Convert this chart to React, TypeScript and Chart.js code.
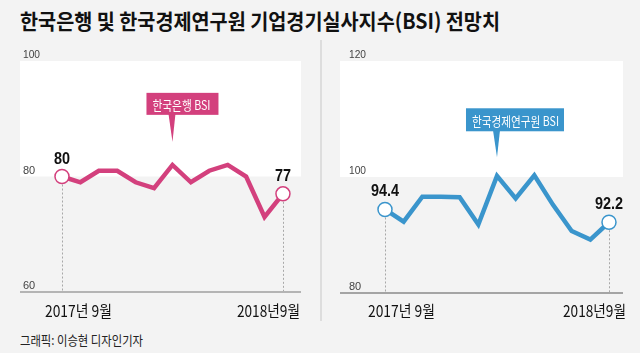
import React, { useEffect, useLayoutEffect, useRef } from 'react';
import { Chart, registerables } from 'chart.js';

Chart.register(...registerables);

// ---------- data ----------
const months = [
  '2017년 9월', '2017년 10월', '2017년 11월', '2017년 12월', '2018년 1월', '2018년 2월', '2018년 3월',
  '2018년 4월', '2018년 5월', '2018년 6월', '2018년 7월', '2018년 8월', '2018년9월',
];
const bokValues = [80, 79, 81, 81, 79, 78, 82, 79, 81, 82, 80, 73, 77];
const keriValues = [94.4, 92.3, 96.6, 96.6, 96.5, 91.8, 100.2, 96.3, 100.3, 95.2, 90.7, 89.2, 92.2];
const bokTicks = [100, 80, 60];
const keriTicks = [120, 100, 80];
const xEdgeLabels = ['2017년 9월', '2018년9월'];
const bokName = '한국은행 BSI';
const keriName = '한국경제연구원 BSI';
const bokCallout = { index: 6, value: 86 };
const keriCallout = { index: 6, value: 103.4 };
const titleText = '한국은행 및 한국경제연구원 기업경기실사지수(BSI) 전망치';
const creditText = '그래픽: 이승현 디자인기자';

// ---------- styles ----------
const BG = '#f3f3f3';
const PINK = '#d3407d';
const BLUE = '#3a95cc';
const KR = '"Noto Sans CJK KR", "Noto Sans", sans-serif';
const NUM = '"Liberation Sans", Arial, sans-serif';

type Panel = {
  values: number[];
  ticks: number[];
  color: string;
  name: string;
  callout: { index: number; value: number };
  left: number;
  xMin: number;
  xMax: number;
  padding: { left: number; right: number; top: number; bottom: number };
  tickDx: number;
  baseColor: string;
  baseWidth: number;
  box: { dx: number; dy: number; w: number; h: number; textW: number };
};

const panels: Panel[] = [
  {
    values: bokValues,
    ticks: bokTicks,
    color: PINK,
    name: bokName,
    callout: bokCallout,
    left: 0,
    xMin: -2.28,
    xMax: 12.98,
    padding: { left: 20, right: 19, top: 21, bottom: 38 },
    tickDx: 3,
    baseColor: '#b4b4b4',
    baseWidth: 2,
    box: { dx: -26, dy: 49, w: 72, h: 22, textW: 58 },
  },
  {
    values: keriValues,
    ticks: keriTicks,
    color: BLUE,
    name: keriName,
    callout: keriCallout,
    left: 320,
    xMin: -2.41,
    xMax: 12.75,
    padding: { left: 20, right: 17, top: 21, bottom: 37 },
    tickDx: 9,
    baseColor: '#8a8a8a',
    baseWidth: 1.5,
    box: { dx: -31, dy: 49, w: 98, h: 23, textW: 87 },
  },
];

function squeezeText(ctx: CanvasRenderingContext2D, text: string, x: number, y: number, maxW: number) {
  const w = ctx.measureText(text).width;
  ctx.fillText(text, x, y, Math.min(w, maxW));
}

function makePlugin(p: Panel) {
  return {
    id: 'panelDecor',
    beforeDatasetsDraw(chart: any) {
      const { ctx, chartArea: a, scales } = chart;
      const xs = scales.x, ys = scales.y;
      const yTop = ys.getPixelForValue(p.ticks[0]);
      const yMid = ys.getPixelForValue(p.ticks[1]);
      const yBot = ys.getPixelForValue(p.ticks[2]);
      ctx.save();
      // white band
      ctx.fillStyle = '#ffffff';
      ctx.fillRect(a.left, yTop, a.right - a.left, yMid - yTop);
      // baseline
      ctx.strokeStyle = p.baseColor;
      ctx.lineWidth = p.baseWidth;
      ctx.beginPath();
      ctx.moveTo(a.left, yBot);
      ctx.lineTo(a.right, yBot);
      ctx.stroke();
      // dotted drop lines
      const last = p.values.length - 1;
      ctx.strokeStyle = '#a8a8a8';
      ctx.lineWidth = 1;
      ctx.setLineDash([2, 2]);
      [0, last].forEach((i) => {
        const x = Math.round(xs.getPixelForValue(i)) + 0.5;
        ctx.beginPath();
        ctx.moveTo(x, ys.getPixelForValue(p.values[i]));
        ctx.lineTo(x, yBot - 1);
        ctx.stroke();
      });
      ctx.setLineDash([]);
      // tick labels
      ctx.fillStyle = '#444';
      ctx.font = `11px ${NUM}`;
      ctx.textAlign = 'left';
      ctx.textBaseline = 'alphabetic';
      p.ticks.forEach((t) => {
        const y = ys.getPixelForValue(t);
        squeezeText(ctx, String(t), a.left + p.tickDx, y - 3, 17);
      });
      ctx.restore();
    },
    afterDatasetsDraw(chart: any) {
      const { ctx, scales } = chart;
      const xs = scales.x, ys = scales.y;
      const last = p.values.length - 1;
      ctx.save();
      // value labels
      ctx.fillStyle = '#111';
      ctx.font = `bold 16px ${NUM}`;
      ctx.textAlign = 'center';
      ctx.textBaseline = 'alphabetic';
      [0, last].forEach((i) => {
        const x = xs.getPixelForValue(i);
        const y = ys.getPixelForValue(p.values[i]);
        const txt = String(p.values[i]);
        const w = ctx.measureText(txt).width;
        ctx.fillText(txt, x, y - 13, w * 0.9);
      });
      // callout
      const tx = xs.getPixelForValue(p.callout.index);
      const ty = ys.getPixelForValue(p.callout.value);
      const bx = tx + p.box.dx;
      const by = ty - p.box.dy;
      ctx.fillStyle = p.color;
      ctx.fillRect(bx, by, p.box.w, p.box.h);
      ctx.beginPath();
      ctx.moveTo(tx - 4, by + p.box.h - 1);
      ctx.lineTo(tx + 3, by + p.box.h - 1);
      ctx.lineTo(tx, ty);
      ctx.closePath();
      ctx.fill();
      ctx.fillStyle = '#ffffff';
      ctx.font = `13px ${KR}`;
      ctx.textAlign = 'left';
      ctx.textBaseline = 'middle';
      squeezeText(ctx, p.name, bx + 6, by + p.box.h / 2 + 1, p.box.textW);
      // x edge labels
      ctx.fillStyle = '#111';
      ctx.font = `16px ${KR}`;
      ctx.textBaseline = 'middle';
      ctx.textAlign = 'left';
      squeezeText(ctx, xEdgeLabels[0], xs.getPixelForValue(0) - 17, 271, 67);
      ctx.textAlign = 'right';
      squeezeText(ctx, xEdgeLabels[1], xs.getPixelForValue(last) + 17, 271, 63);
      ctx.restore();
    },
  };
}

function PanelChart({ p }: { p: Panel }) {
  const ref = useRef<HTMLCanvasElement>(null);
  useEffect(() => {
    if (!ref.current) return;
    const last = p.values.length - 1;
    const radii = p.values.map((_, i) => (i === 0 || i === last ? 7 : 0));
    const chart = new Chart(ref.current, {
      type: 'line',
      data: {
        labels: months,
        datasets: [
          {
            label: p.name,
            data: p.values.map((v, i) => ({ x: i, y: v })),
            borderColor: p.color,
            borderWidth: 4.5,
            borderJoinStyle: 'miter',
            tension: 0,
            pointRadius: radii,
            pointHoverRadius: radii,
            pointBackgroundColor: '#ffffff',
            pointBorderColor: p.color,
            pointBorderWidth: 1.5,
            clip: false as any,
          } as any,
        ],
      },
      options: {
        responsive: false,
        animation: false,
        devicePixelRatio: 1,
        events: [],
        layout: { padding: p.padding },
        plugins: { legend: { display: false }, tooltip: { enabled: false }, title: { display: false } },
        scales: {
          x: { type: 'linear', display: false, min: p.xMin, max: p.xMax },
          y: { type: 'linear', display: false, min: p.ticks[2], max: p.ticks[0] },
        },
      },
      plugins: [makePlugin(p)],
    });
    return () => chart.destroy();
  }, [p]);
  return (
    <canvas
      ref={ref}
      width={320}
      height={290}
      style={{ position: 'absolute', left: p.left, top: 40, width: 320, height: 290 }}
    />
  );
}

function FitText({ text, left, top, width, style }: { text: string; left: number; top: number; width: number; style: React.CSSProperties }) {
  const ref = useRef<HTMLSpanElement>(null);
  useLayoutEffect(() => {
    const fit = () => {
      const el = ref.current;
      if (!el) return;
      el.style.transform = 'none';
      const w = el.getBoundingClientRect().width;
      if (w > 0) el.style.transform = `scaleX(${width / w})`;
    };
    fit();
    if ((document as any).fonts && (document as any).fonts.ready) {
      (document as any).fonts.ready.then(fit);
    }
  }, [text, width]);
  return (
    <span
      ref={ref}
      style={{
        position: 'absolute',
        left,
        top,
        whiteSpace: 'nowrap',
        transformOrigin: '0 50%',
        ...style,
      }}
    >
      {text}
    </span>
  );
}

export default function App() {
  return (
    <div
      style={{
        position: 'fixed',
        left: 0,
        top: 0,
        width: 640,
        height: 353,
        background: BG,
        overflow: 'hidden',
      }}
    >
      <FitText
        text={titleText}
        left={20}
        top={10}
        width={480}
        style={{ fontFamily: KR, fontWeight: 700, fontSize: 21, lineHeight: '21px', color: '#111' }}
      />
      <div style={{ position: 'absolute', left: 320, top: 40, width: 2, height: 281, background: '#dddddd' }} />
      {panels.map((p, i) => (
        <PanelChart key={i} p={p} />
      ))}
      <FitText
        text={creditText}
        left={20}
        top={333}
        width={123}
        style={{ fontFamily: KR, fontSize: 13, lineHeight: '13px', color: '#222' }}
      />
    </div>
  );
}
